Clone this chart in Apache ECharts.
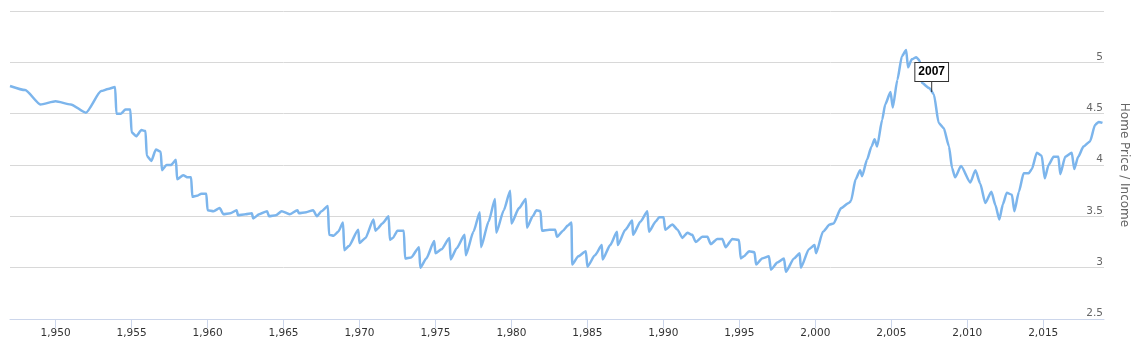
<!DOCTYPE html>
<html>
<head>
<meta charset="utf-8">
<script src="https://cdn.jsdelivr.net/npm/echarts@6/dist/echarts.min.js"></script>
<style>
html,body{margin:0;padding:0;background:#fff;}
#chart{width:1138px;height:356px;}
</style>
</head>
<body>
<div id="chart"></div>
<script>
// Decimal years of each observation
const years = [
1947.0,1948.0,1949.0,1950.0,1951.0,1952.0,1953.0,1953.45,1953.92,
1954.0,1954.3,1954.6,1954.92,1955.0,1955.3,1955.65,1955.92,
1956.0,1956.3,1956.6,1956.92,1957.0,1957.3,1957.6,1957.92,
1958.0,1958.4,1958.7,1958.92,1959.0,1959.3,1959.6,1959.92,
1960.0,1960.4,1960.8,1961.05,1961.5,1961.92,1962.0,1962.5,1962.92,
1963.0,1963.4,1963.92,1964.05,1964.5,1964.88,1965.4,1965.92,
1966.0,1966.5,1966.95,1967.2,1967.5,1967.92,
1968.0,1968.3,1968.6,1968.92,1969.0,1969.3,1969.92,1970.0,1970.4,1970.92,
1971.05,1971.2,1971.5,1971.92,1972.0,1972.2,1972.5,1972.92,
1973.0,1973.4,1973.92,1974.0,1974.4,1974.92,1975.0,1975.4,1975.92,
1976.0,1976.4,1976.92,1977.0,1977.5,1977.92,1978.0,1978.5,1978.92,
1979.0,1979.5,1979.92,1980.0,1980.5,1980.95,1981.02,1981.4,1981.65,1981.92,
1982.0,1982.5,1982.88,1983.0,1983.4,1983.7,1983.95,
1984.0,1984.4,1984.9,1985.0,1985.5,1985.95,1986.0,1986.5,1986.95,
1987.0,1987.5,1987.95,1988.0,1988.5,1988.95,
1989.05,1989.5,1989.72,1990.02,1990.12,1990.6,1990.93,1991.25,1991.58,1991.9,
1992.13,1992.57,1992.9,1993.12,1993.55,1993.88,1994.1,1994.54,1994.98,
1995.09,1995.3,1995.64,1996.0,1996.1,1996.5,1996.95,
1997.08,1997.5,1997.94,1998.06,1998.6,1998.97,1999.05,1999.58,1999.95,
2000.05,2000.5,2000.95,2001.2,2001.7,2002.2,2002.35,2002.65,2002.95,2003.08,
2003.4,2003.7,2003.9,2004.07,2004.4,2004.6,2004.95,2005.1,2005.4,2005.7,2005.98,
2006.1,2006.35,2006.65,2006.9,2007.0,2007.5,2007.8,2008.12,2008.45,2008.8,
2009.0,2009.2,2009.59,2010.2,2010.54,2010.85,2011.19,2011.59,2011.85,
2012.11,2012.35,2012.6,2012.94,2013.1,2013.4,2013.71,2014.05,2014.25,2014.58,2014.9,
2015.1,2015.35,2015.68,2016.0,2016.12,2016.45,2016.88,2017.04,2017.3,2017.65,
2018.08,2018.41,2018.65,2018.9
];
// Home price to income ratio
const ratios = [
4.77,4.73,4.59,4.62,4.59,4.51,4.72,4.74,4.76,
4.50,4.50,4.54,4.54,4.32,4.28,4.34,4.33,
4.09,4.04,4.15,4.13,3.95,4.00,4.00,4.05,
3.86,3.90,3.88,3.88,3.69,3.70,3.72,3.72,
3.56,3.55,3.58,3.52,3.53,3.56,3.51,3.52,3.53,
3.48,3.52,3.55,3.50,3.51,3.55,3.52,3.56,
3.53,3.54,3.56,3.50,3.55,3.60,
3.32,3.31,3.35,3.44,3.17,3.21,3.37,3.24,3.29,3.47,
3.36,3.38,3.43,3.50,3.27,3.29,3.36,3.36,
3.09,3.10,3.20,3.00,3.09,3.26,3.14,3.18,3.29,
3.08,3.19,3.32,3.12,3.35,3.54,3.20,3.45,3.67,
3.34,3.56,3.75,3.43,3.58,3.67,3.39,3.50,3.56,3.55,
3.36,3.37,3.37,3.30,3.36,3.41,3.44,
3.03,3.11,3.16,3.01,3.12,3.22,3.08,3.22,3.35,
3.22,3.37,3.46,3.32,3.45,3.55,
3.35,3.45,3.49,3.49,3.37,3.42,3.37,3.29,3.34,3.32,
3.25,3.30,3.30,3.23,3.28,3.28,3.20,3.28,3.27,
3.09,3.11,3.16,3.15,3.03,3.09,3.11,
2.98,3.05,3.09,2.96,3.09,3.14,3.00,3.18,3.22,
3.14,3.35,3.42,3.43,3.58,3.63,3.65,3.86,3.95,3.89,
4.05,4.18,4.25,4.18,4.44,4.59,4.71,4.56,4.83,5.06,5.12,
4.95,5.03,5.05,5.01,4.80,4.75,4.69,4.41,4.36,4.18,
3.97,3.88,3.99,3.83,3.95,3.82,3.63,3.74,3.61,
3.47,3.62,3.73,3.71,3.55,3.74,3.92,3.92,3.96,4.12,4.09,
3.87,4.00,4.08,4.08,3.91,4.08,4.12,3.96,4.08,4.18,
4.23,4.39,4.42,4.41
];
const xTickLabels = [1950,1955,1960,1965,1970,1975,1980,1985,1990,1995,2000,2005,2010,2015];
const annotation = { text: '2007', x: 2007.66, y: 4.71 };

const chart = echarts.init(document.getElementById('chart'), null, {renderer: 'canvas'});
const fontFam = '"DejaVu Sans", Verdana, sans-serif';
chart.setOption({
  animation: false,
  grid: { left: 10, right: 33, top: 11, bottom: 37 },
  xAxis: {
    type: 'value',
    min: 1947,
    max: 2019,
    axisLine: { lineStyle: { color: '#ccd6eb', width: 1 } },
    axisTick: { show: true, length: 9, customValues: xTickLabels, lineStyle: { color: '#ccd6eb' } },
    axisLabel: { customValues: xTickLabels, color: '#333', fontSize: 10.5, fontFamily: fontFam, margin: 9 },
    splitLine: { show: false }
  },
  yAxis: {
    type: 'value',
    position: 'right',
    min: 2.5,
    max: 5.5,
    interval: 0.5,
    name: 'Home Price / Income',
    nameLocation: 'middle',
    nameRotate: -90,
    nameGap: 14,
    nameTextStyle: { color: '#666', fontSize: 12, fontFamily: fontFam },
    axisLine: { show: false },
    axisTick: { show: false },
    axisLabel: {
      inside: true,
      color: '#666',
      fontSize: 10.5,
      fontFamily: fontFam,
      margin: 1,
      verticalAlign: 'bottom',
      formatter: v => (v >= 5.5 ? '' : String(v))
    },
    splitLine: { lineStyle: { color: '#d8d8d8', width: 1 } }
  },
  series: [{
    type: 'line',
    data: years.map((y, i) => [y, ratios[i]]),
    showSymbol: false,
    smooth: 0.2,
    smoothMonotone: 'x',
    lineStyle: { color: '#7cb5ec', width: 2.5 },
    itemStyle: { color: '#7cb5ec' },
    markPoint: {
      silent: true,
      symbol: 'rect',
      symbolSize: [1, 11],
      symbolOffset: [0, '-50%'],
      itemStyle: { color: '#333' },
      label: {
        show: true,
        position: 'top',
        distance: 0,
        formatter: annotation.text,
        color: '#000',
        fontWeight: 'bold',
        fontSize: 12,
        fontFamily: '"Liberation Sans", Arial, sans-serif',
        backgroundColor: '#fff',
        borderColor: '#333',
        borderWidth: 1,
        padding: [3, 3, 3, 3]
      },
      data: [{ coord: [annotation.x, annotation.y] }]
    }
  }]
});
</script>
</body>
</html>
